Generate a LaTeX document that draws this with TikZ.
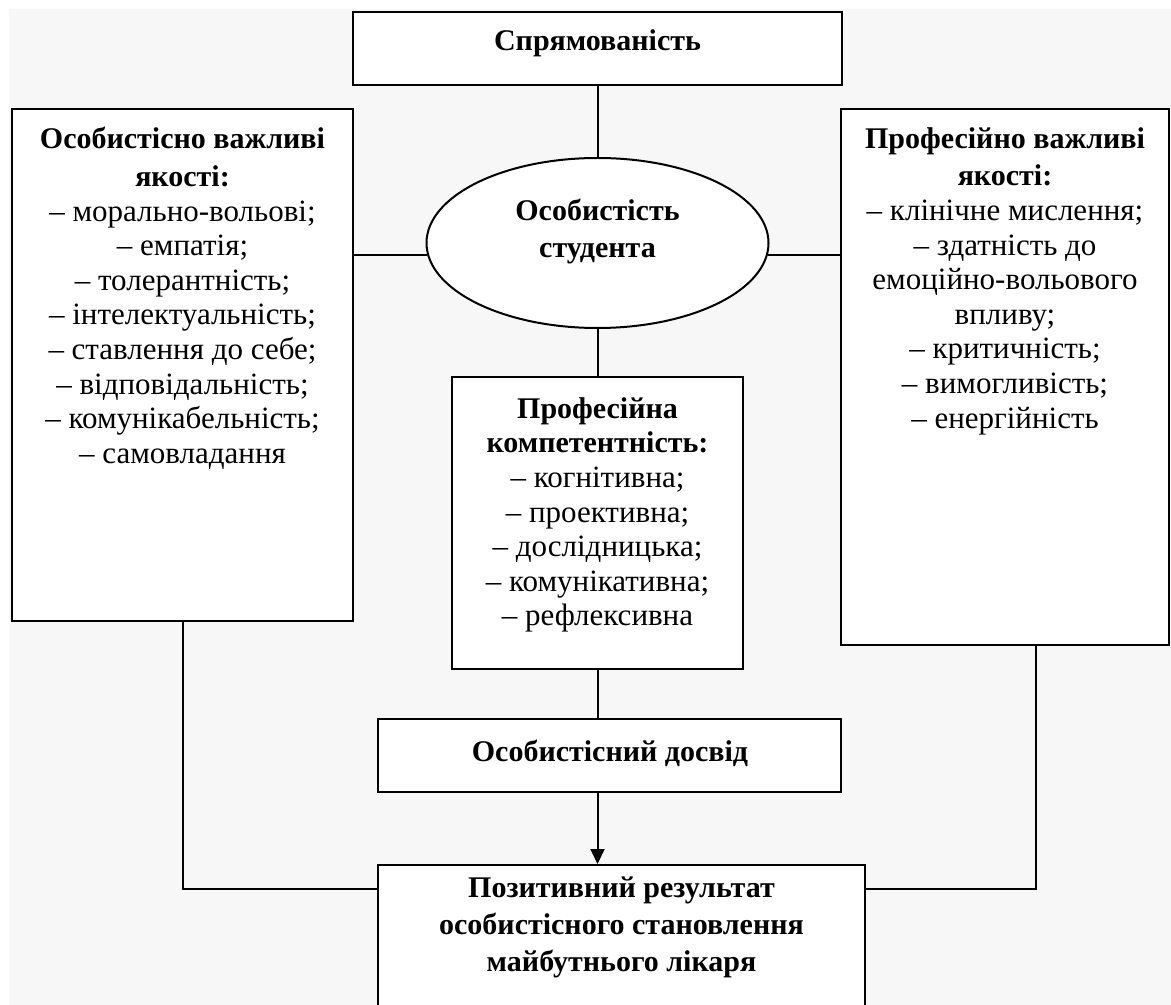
\documentclass[tikz,border=0pt]{standalone}
\usepackage{fontspec}
\setmainfont{Liberation Serif}
\usetikzlibrary{fit}
\usetikzlibrary{arrows.meta}
\usetikzlibrary{shapes.geometric}

\newcommand{\hd}[1]{{\fontsize{15}{17.3}\selectfont\bfseries #1}}

\tikzset{
  box/.style={draw, line width=1pt, fill=white, inner sep=0pt},
  txt/.style={align=center, inner sep=0pt, font=\fontsize{15.5}{17.3}\selectfont},
  bold/.style={align=center, inner sep=0pt, font=\fontsize{15}{18.5}\selectfont\bfseries},
  link/.style={line width=1pt},
}

\begin{document}
\begin{tikzpicture}[x=0.5pt,y=-0.5pt]
                    \clip (0,0) rectangle (1171,1005);
                    \fill[white] (0,0) rectangle (1171,1005);
                    \fill[black!3] (9,9) rectangle (1171,1005);

                    \node[box, fit={(353,12) (842,85)}] (spr) {};
                    \node[box, fit={(12,109) (353,621)}] (osob) {};
                    \node[box, fit={(841,109) (1169,645)}] (prof) {};
                    \node[box, ellipse, minimum width=171pt, minimum height=85pt] (stud) at (597.5,243) {};
                    \node[box, fit={(452,377) (743,669)}] (komp) {};
                    \node[box, fit={(378,719) (841,792)}] (dosv) {};
                    \node[box, fit={(378,865) (865,1020)}] (rez) {};

                    \node[bold] (sprT) at (597.5,43) {Спрямованість};
                    \node[txt, anchor=north] (osobT) at (182.5,127) {\hd{Особистісно важливі}\\[1.5pt]
                      \hd{якості:}\\ – морально-вольові;\\ – емпатія;\\ – толерантність;\\
                      – інтелектуальність;\\ – ставлення до себе;\\ – відповідальність;\\
                      – комунікабельність;\\ – самовладання};
                    \node[txt, anchor=north] (profT) at (1005,127) {\hd{Професійно важливі}\\[1.5pt]
                      \hd{якості:}\\ – клінічне мислення;\\ – здатність до\\ емоційно-вольового\\
                      впливу;\\ – критичність;\\ – вимогливість;\\ – енергійність};
                    \node[bold, anchor=north] (studT) at (597.5,199) {Особистість\\ студента};
                    \node[txt, anchor=north] (kompT) at (597.5,397) {\hd{Професійна}\\
                      \hd{компетентність:}\\ – когнітивна;\\ – проективна;\\ – дослідницька;\\
                      – комунікативна;\\ – рефлексивна};
                    \node[bold] (dosvT) at (610,753) {Особистісний досвід};
                    \node[bold, anchor=north] (rezT) at (621.5,876) {Позитивний результат\\
                      особистісного становлення\\ майбутнього лікаря};

                    \coordinate (pj) at (1036,889);

                    \draw[link] (spr.south) -- (stud.north);
                    \draw[link] (stud.184.4) -- (stud.184.4 -| osob.east);
                    \draw[link] (stud.-4.4) -- (stud.-4.4 -| prof.west);
                    \draw[link] (stud.south) -- (komp.north);
                    \draw[link] (komp.south) -- (komp.south |- dosv.north);
                    \draw[link, -{Triangle[length=7.5pt,width=7pt]}] (komp.south |- dosv.south) -- (komp.south |- rez.north);
                    \draw[link] (osob.south) |- (rez.west |- pj);
                    \draw[link] (pj |- prof.south) -- (pj) -- (pj -| rez.east);
                \end{tikzpicture}
\end{document}
